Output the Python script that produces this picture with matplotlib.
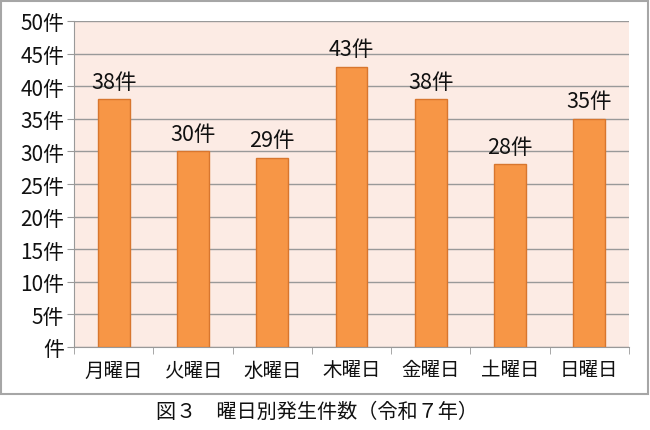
import matplotlib.pyplot as plt
from matplotlib.patches import Rectangle

plt.rcParams['font.family'] = ['Noto Sans CJK JP', 'DejaVu Sans']

days = ['月曜日', '火曜日', '水曜日', '木曜日', '金曜日', '土曜日', '日曜日']
counts = [38, 30, 29, 43, 38, 28, 35]
y_ticks = [0, 5, 10, 15, 20, 25, 30, 35, 40, 45, 50]
caption = '図３　曜日別発生件数（令和７年）'

fig = plt.figure(figsize=(6.5, 4.31), dpi=100)
ax = fig.add_axes([74 / 650, 1 - 348 / 431, (629 - 74) / 650, (348 - 22) / 431])

# outer frame
fig.patches.append(Rectangle((1 / 650, 1 - 395 / 431), 647 / 650, 393 / 431,
                             transform=fig.transFigure, fill=False,
                             edgecolor='#a6a6a6', linewidth=1.5))

ax.set_facecolor('#fcebe4')
x = list(range(len(days)))
ax.bar(x, counts, width=0.4, color='#f79646', edgecolor='#d8762e', linewidth=1, zorder=3)
for xi, v in zip(x, counts):
    ax.text(xi, v + 1.0, f'{v}件', ha='center', va='bottom', fontsize=15.5, color='#111111')

ax.set_xlim(-0.5, len(days) - 0.5)
ax.set_ylim(0, 50)
ax.set_yticks(y_ticks)
ax.set_yticklabels([f'{t}件' if t else '件' for t in y_ticks], fontsize=15, color='#111111')
ax.yaxis.grid(True, color='#999999', linewidth=1, zorder=0)
ax.set_axisbelow(True)

ax.set_xticks(x)
ax.set_xticklabels(days, fontsize=14, color='#111111')
ax.set_xticks([i - 0.5 for i in range(len(days) + 1)], minor=True)
ax.tick_params(axis='x', which='major', length=0, pad=9)
ax.tick_params(axis='x', which='minor', length=5, color='#999999')
ax.tick_params(axis='y', length=5, color='#999999', pad=2)

for s in ['top', 'right']:
    ax.spines[s].set_visible(False)
for s in ['left', 'bottom']:
    ax.spines[s].set_color('#999999')

fig.text(317 / 650, 1 - 412 / 431, caption, ha='center', va='center', fontsize=14.5, color='#111111')

fig.savefig('out.png', dpi=100)
